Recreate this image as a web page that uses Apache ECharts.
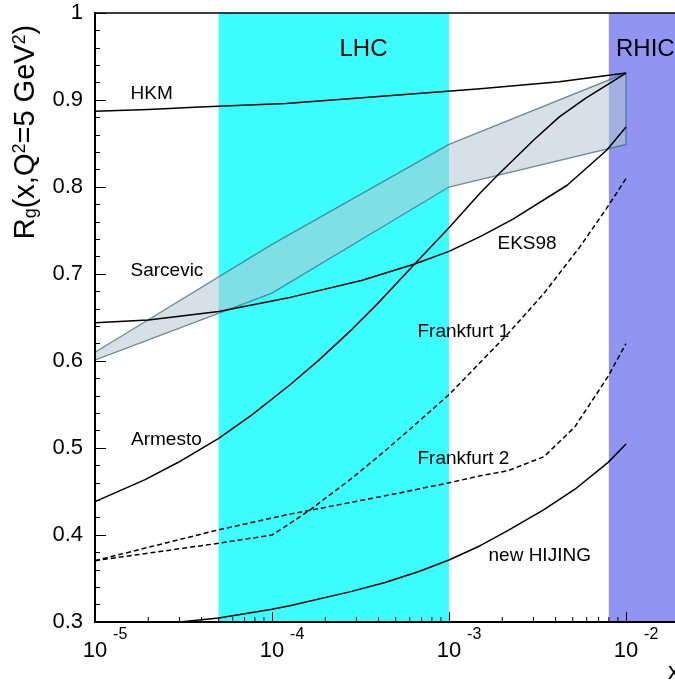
<!DOCTYPE html>
<html><head><meta charset="utf-8">
<script src="https://cdn.jsdelivr.net/npm/echarts@6/dist/echarts.min.js"></script>
<style>html,body{margin:0;padding:0;background:#fff}#c{width:675px;height:681px}</style>
</head><body><div id="c"></div>
<script>
const FONT = '"Liberation Sans", Arial, Helvetica, sans-serif';

// ---- data ----
const xHKM = [1e-5, 2e-5, 3.9e-5, 1.2e-4, 4e-4, 1.5e-3, 4.2e-3, 1e-2];
const yHKM = [0.887, 0.889, 0.892, 0.896, 0.904, 0.913, 0.921, 0.931];

const xSarcevic = [1e-5, 1e-4, 1e-3, 1e-2];
const ySarcevicHigh = [0.610, 0.734, 0.849, 0.931];
const ySarcevicLow = [0.601, 0.678, 0.800, 0.849];

const xEKS98 = [1e-5, 2e-5, 5e-5, 1.2e-4, 3.2e-4, 6.4e-4, 1e-3, 1.5e-3, 2.3e-3, 4.65e-3, 7.8e-3, 1e-2];
const yEKS98 = [0.644, 0.647, 0.657, 0.672, 0.6925, 0.7115, 0.726, 0.743, 0.763, 0.802, 0.8425, 0.869];

const xArmesto = [1e-5, 1.92e-5, 2.94e-5, 5e-5, 7.7e-5, 1.26e-4, 1.82e-4, 2.83e-4, 3.9e-4, 6.4e-4, 1e-3, 1.5e-3, 1.9e-3, 3e-3, 4.2e-3, 5.9e-3, 1e-2];
const yArmesto = [0.4383, 0.4636, 0.4833, 0.5111, 0.5380, 0.5724, 0.6001, 0.6364, 0.6648, 0.7115, 0.7532, 0.7930, 0.8143, 0.8537, 0.8806, 0.9018, 0.9308];

const xFrankfurt1 = [1e-5, 5e-5, 1e-4, 1.18e-4, 1.64e-4, 2.83e-4, 4.35e-4, 6.7e-4, 1e-3, 1.45e-3, 2.16e-3, 3.44e-3, 5.5e-3, 7.8e-3, 1e-2];
const yFrankfurt1 = [0.3705, 0.3905, 0.4000, 0.4093, 0.4289, 0.4653, 0.4967, 0.5300, 0.5614, 0.5952, 0.6317, 0.6777, 0.7315, 0.7760, 0.8097];

const xFrankfurt2 = [1e-5, 5e-5, 1.26e-4, 4.35e-4, 1e-3, 1.5e-3, 2.16e-3, 3.44e-3, 5.15e-3, 7.9e-3, 1e-2];
const yFrankfurt2 = [0.3705, 0.4060, 0.424, 0.445, 0.460, 0.468, 0.474, 0.490, 0.5245, 0.582, 0.620];

const xHIJING = [3e-5, 5e-5, 1e-4, 1.26e-4, 2.82e-4, 4.35e-4, 6.7e-4, 1e-3, 1.5e-3, 2.16e-3, 3.44e-3, 5.15e-3, 7.9e-3, 1e-2];
const yHIJING = [0.300, 0.3046, 0.3147, 0.3187, 0.3352, 0.3455, 0.3578, 0.3713, 0.3877, 0.4053, 0.4291, 0.4526, 0.4832, 0.5046];

const lhcRange = [5e-5, 1e-3];
const rhicRange = [8e-3, 1e-1];

const xMin = 1e-5, xMax = 1e-1;
const yMin = 0.3, yMax = 1.0;
const xMinorTicks = [2e-5,3e-5,4e-5,5e-5,6e-5,7e-5,8e-5,9e-5,
                     2e-4,3e-4,4e-4,5e-4,6e-4,7e-4,8e-4,9e-4,
                     2e-3,3e-3,4e-3,5e-3,6e-3,7e-3,8e-3,9e-3];

const zip = (xs, ys) => xs.map((x, i) => [x, ys[i]]);

const chart = echarts.init(document.getElementById('c'), null, {renderer: 'canvas'});

function lineSeries(name, xs, ys, dashed) {
  return {
    name, type: 'line', data: zip(xs, ys), showSymbol: false, symbol: 'none',
    smooth: false,
    lineStyle: {color: '#000', width: 1.5, type: dashed ? [5, 3] : 'solid', join: 'round'},
    z: 5, silent: true, animation: false, clip: true
  };
}

function annot(text, x, y, size) {
  return {type: 'text', x, y, z: 20, silent: true,
    style: {text, fill: '#000', font: (size || 19) + 'px ' + FONT, align: 'left', verticalAlign: 'middle'}};
}

const option = {
  animation: false,
  backgroundColor: '#fff',
  grid: {left: 95, top: 13, width: 708, height: 609, containLabel: false, outerBoundsMode: 'none'},
  xAxis: [{
    type: 'log', logBase: 10, min: xMin, max: xMax, position: 'bottom', z: 10,
    axisLine: {show: true, onZero: false, lineStyle: {color: '#000', width: 2}},
    axisTick: {show: true, inside: true, length: 10, lineStyle: {color: '#000', width: 1}},
    minorTick: {show: false},
    splitLine: {show: false},
    axisLabel: {
      show: true, margin: 5,
      formatter: function (v) {
        const l = Math.log10(v), e = Math.round(l);
        if (Math.abs(l - e) > 1e-6) return '';
        return '{p| }{b|10}{s|' + e + '}';
      },
      rich: {
        p: {width: 20, fontSize: 22, lineHeight: 35, fontFamily: FONT},
        b: {fontSize: 22, lineHeight: 22, verticalAlign: 'bottom', fontFamily: FONT, color: '#000'},
        s: {fontSize: 16, lineHeight: 16, verticalAlign: 'top', padding: [0, 0, 0, 6], fontFamily: FONT, color: '#000'}
      }
    }
  }, {
    type: 'value', min: 0, max: 1, position: 'top', z: 10,
    axisLine: {show: true, onZero: false, lineStyle: {color: '#000', width: 1.5}},
    axisTick: {show: false}, axisLabel: {show: false}, splitLine: {show: false}
  }],
  yAxis: {
    type: 'value', min: yMin, max: yMax, interval: 0.1, z: 10,
    axisLine: {show: true, onZero: false, lineStyle: {color: '#000', width: 2}},
    axisTick: {show: true, inside: true, length: 11, lineStyle: {color: '#000', width: 1}},
    minorTick: {show: true, splitNumber: 5, length: 5, lineStyle: {color: '#000', width: 1}},
    splitLine: {show: false},
    axisLabel: {
      margin: 12, fontSize: 22, fontFamily: FONT, color: '#000',
      formatter: v => (Math.abs(v - 1) < 1e-9 ? '1' : v.toFixed(1))
    }
  },
  series: [
    {
      name: 'bands', type: 'line', data: [], silent: true, z: 1,
      markArea: {
        silent: true, label: {show: false},
        data: [
          [{xAxis: lhcRange[0], itemStyle: {color: '#3DFEFE'}}, {xAxis: lhcRange[1]}],
          [{xAxis: rhicRange[0], itemStyle: {color: '#9194F0'}}, {xAxis: rhicRange[1]}]
        ]
      }
    },
    {
      name: 'Sarcevic', type: 'custom', z: 3, silent: true,
      data: [[xSarcevic[0], ySarcevicLow[0]]],
      renderItem: function (params, api) {
        const pts = [];
        for (let i = 0; i < xSarcevic.length; i++) pts.push(api.coord([xSarcevic[i], ySarcevicHigh[i]]));
        for (let i = xSarcevic.length - 1; i >= 0; i--) pts.push(api.coord([xSarcevic[i], ySarcevicLow[i]]));
        return {type: 'polygon', shape: {points: pts},
          style: {fill: 'rgba(181,198,209,0.55)', stroke: 'rgba(60,110,120,0.75)', lineWidth: 1.3}};
      }
    },
    lineSeries('HKM', xHKM, yHKM),
    lineSeries('EKS98', xEKS98, yEKS98),
    lineSeries('Armesto', xArmesto, yArmesto),
    lineSeries('Frankfurt 1', xFrankfurt1, yFrankfurt1, true),
    lineSeries('Frankfurt 2', xFrankfurt2, yFrankfurt2, true),
    lineSeries('new HIJING', xHIJING, yHIJING),
    {
      name: 'minorTicks', type: 'custom', z: 12, silent: true,
      data: xMinorTicks.map(v => [v, yMin]),
      renderItem: function (params, api) {
        const p = api.coord([api.value(0), yMin]);
        return {type: 'line', shape: {x1: p[0], y1: p[1], x2: p[0], y2: p[1] - 5},
          style: {stroke: '#000', lineWidth: 1}};
      }
    }
  ],
  graphic: [
    annot('HKM', 130.5, 93.5),
    annot('Sarcevic', 130.5, 270.5),
    annot('EKS98', 497.5, 243.5),
    annot('Frankfurt 1', 417.5, 332),
    annot('Armesto', 131, 439.5),
    annot('Frankfurt 2', 417.5, 458.5),
    annot('new HIJING', 488.5, 555.5),
    annot('LHC', 339.5, 49, 24),
    annot('RHIC', 616, 49, 24),
    annot('x', 668, 672, 24),
    {
      type: 'text', x: 26, y: 132, rotation: Math.PI / 2, z: 20, silent: true,
      style: {
        text: '{t|R}{sub|g}{t|(x,Q}{sup|2}{t|=5 GeV}{sup|2}{t|)}',
        align: 'center', verticalAlign: 'middle', fill: '#000',
        rich: {
          t: {fontSize: 29, lineHeight: 29, fontFamily: FONT, fill: '#000'},
          sub: {fontSize: 18, lineHeight: 18, verticalAlign: 'bottom', fontFamily: FONT, fill: '#000'},
          sup: {fontSize: 18, lineHeight: 18, verticalAlign: 'top', fontFamily: FONT, fill: '#000'}
        }
      }
    }
  ]
};
chart.setOption(option);
</script>
</body></html>
